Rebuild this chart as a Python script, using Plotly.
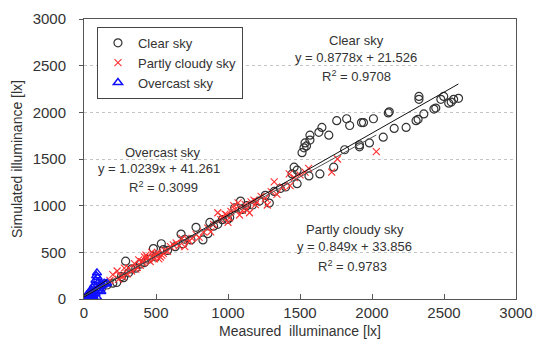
import plotly.graph_objects as go

# ---- data ----
clear_x = [120,160,200,227,260,275,289,310,330,360,392,420,447,482,500,537,551,580,633,674,688,700,743,778,826,860,874,900,929,960,998,1012,1046,1087,1100,1130,1170,1218,1259,1287,1321,1363,1400,1445,1459,1480,1480,1514,1528,1535,1545,1569,1569,1631,1652,1700,1734,1638,1562,1755,1824,1845,1810,1913,1913,1941,1927,1982,2010,2078,2113,2120,2154,2237,2306,2320,2360,2430,2443,2326,2326,2498,2478,2533,2550,2567,2601]
clear_y = [110,150,170,177,240,228,405,280,322,330,374,390,426,540,450,592,530,520,561,696,592,640,633,768,633,700,820,780,800,850,852,872,976,1049,960,1000,1007,1049,1111,1028,1153,1184,1200,1340,1412,1236,1380,1568,1620,1672,1640,1703,1755,1786,1838,1755,1412,1340,1319,1911,1931,1859,1599,1630,1651,1890,1890,1672,1931,1734,1994,2005,1828,1838,1911,1925,1983,2035,2046,2170,2139,2170,2139,2098,2110,2139,2150]

partly_x = [180,200,230,250,280,300,330,350,370,380,400,420,430,450,470,480,500,520,540,560,600,640,680,700,730,750,780,800,830,860,880,900,929,960,990,1000,1020,1050,1080,1100,1120,1149,1180,1200,1230,1260,1273,1300,1321,1340,1380,1425,1431,1460,1500,1535,1560,1720,1760,2030,
            360,390,410,440,460,490,510,530,550,580,310,270,240,620,660,720,1040,1070,1130,1160,1190,1010,980,950]
partly_y = [200,260,300,250,330,270,300,380,340,420,400,450,470,420,500,460,480,430,470,520,560,600,650,560,620,650,690,660,720,760,720,800,924,880,900,820,940,960,900,950,1010,924,1060,1040,1100,1080,1007,1150,1256,1120,1200,1340,1215,1300,1330,1360,1400,1360,1500,1578,
            320,360,390,440,400,430,500,450,490,510,330,240,210,580,570,640,1000,1030,960,1040,1010,870,910,850]

over_x = [15,20,25,30,35,40,45,50,55,60,65,70,75,80,85,90,95,100,105,110,115,120,130,140,150,160,40,60,80,100,70,90,120]
over_y = [20,40,10,60,30,80,50,100,70,120,40,150,90,200,250,280,230,180,130,110,160,140,150,170,160,170,15,30,60,90,5,20,80]

fits = {
    "Clear sky": (0.8778, 21.526, 0, 2600),
    "Partly cloudy sky": (0.849, 33.856, 0, 2030),
    "Overcast sky": (1.0239, 41.261, 0, 160),
}

x_ticks = [0, 500, 1000, 1500, 2000, 2500, 3000]
y_ticks = [0, 500, 1000, 1500, 2000, 2500, 3000]

FONT = "Liberation Sans, Arial, sans-serif"

fig = go.Figure()
fig.add_trace(go.Scatter(x=clear_x, y=clear_y, mode="markers", name="Clear sky",
                         marker=dict(symbol="circle-open", size=8, color="#333333", line=dict(width=1.2))))
fig.add_trace(go.Scatter(x=partly_x, y=partly_y, mode="markers", name="Partly cloudy sky",
                         marker=dict(symbol="x-thin-open", size=7, color="#ff3030", line=dict(width=1.1, color="#ff3030"))))
fig.add_trace(go.Scatter(x=over_x, y=over_y, mode="markers", name="Overcast sky",
                         marker=dict(symbol="triangle-up-open", size=8, color="#1010ff", line=dict(width=1.5))))

line_colors = {"Clear sky": "#111111", "Partly cloudy sky": "#555555", "Overcast sky": "#111111"}
for k, (m, b, x0, x1) in fits.items():
    fig.add_trace(go.Scatter(x=[x0, x1], y=[m * x0 + b, m * x1 + b], mode="lines",
                             line=dict(color=line_colors[k], width=1), showlegend=False, hoverinfo="skip"))

def ann(x, y, text):
    fig.add_annotation(x=x, y=y, xref="x", yref="y", text=text, showarrow=False,
                       font=dict(family=FONT, size=13, color="#333333"))

# Clear sky labels
ann(1890, 2775, "Clear sky")
ann(1890, 2590, "y = 0.8778x + 21.526")
ann(1890, 2385, "R<sup>2</sup> = 0.9708")
# Overcast labels
ann(550, 1575, "Overcast sky")
ann(520, 1400, "y = 1.0239x + 41.261")
ann(550, 1205, "R<sup>2</sup> = 0.3099")
# Partly cloudy labels
ann(1885, 750, "Partly cloudy sky")
ann(1880, 560, "y = 0.849x + 33.856")
ann(1865, 350, "R<sup>2</sup> = 0.9783")

fig.update_layout(
    width=543, height=351,
    margin=dict(l=84, r=22, t=10, b=52),
    paper_bgcolor="white", plot_bgcolor="white",
    font=dict(family=FONT, size=15, color="#333333"),
    legend=dict(x=0.03, y=0.972, xanchor="left", yanchor="top",
                bordercolor="#444444", borderwidth=1, bgcolor="white",
                font=dict(family=FONT, size=13, color="#333333"),
                tracegroupgap=0, itemwidth=30),
    showlegend=True,
)
fig.update_xaxes(range=[0, 3000], tickvals=x_ticks, ticks="inside", ticklen=5, tickcolor="#555555",
                 showgrid=False, zeroline=False, showline=True, linecolor="#555555", linewidth=1, mirror=True,
                 title=dict(text="Measured  illuminance [lx]", font=dict(size=14), standoff=6),
                 tickfont=dict(size=15))
fig.update_yaxes(range=[0, 3000], tickvals=y_ticks, ticks="outside", ticklen=4, tickcolor="#555555",
                 showgrid=True, gridcolor="#c4c4c4", griddash="dot", gridwidth=1, zeroline=False,
                 showline=True, linecolor="#555555", linewidth=1, mirror=True,
                 title=dict(text="Simulated illuminance [lx]", font=dict(size=14), standoff=6),
                 tickfont=dict(size=15), ticklabelstandoff=10)

fig.write_html("out.html")
